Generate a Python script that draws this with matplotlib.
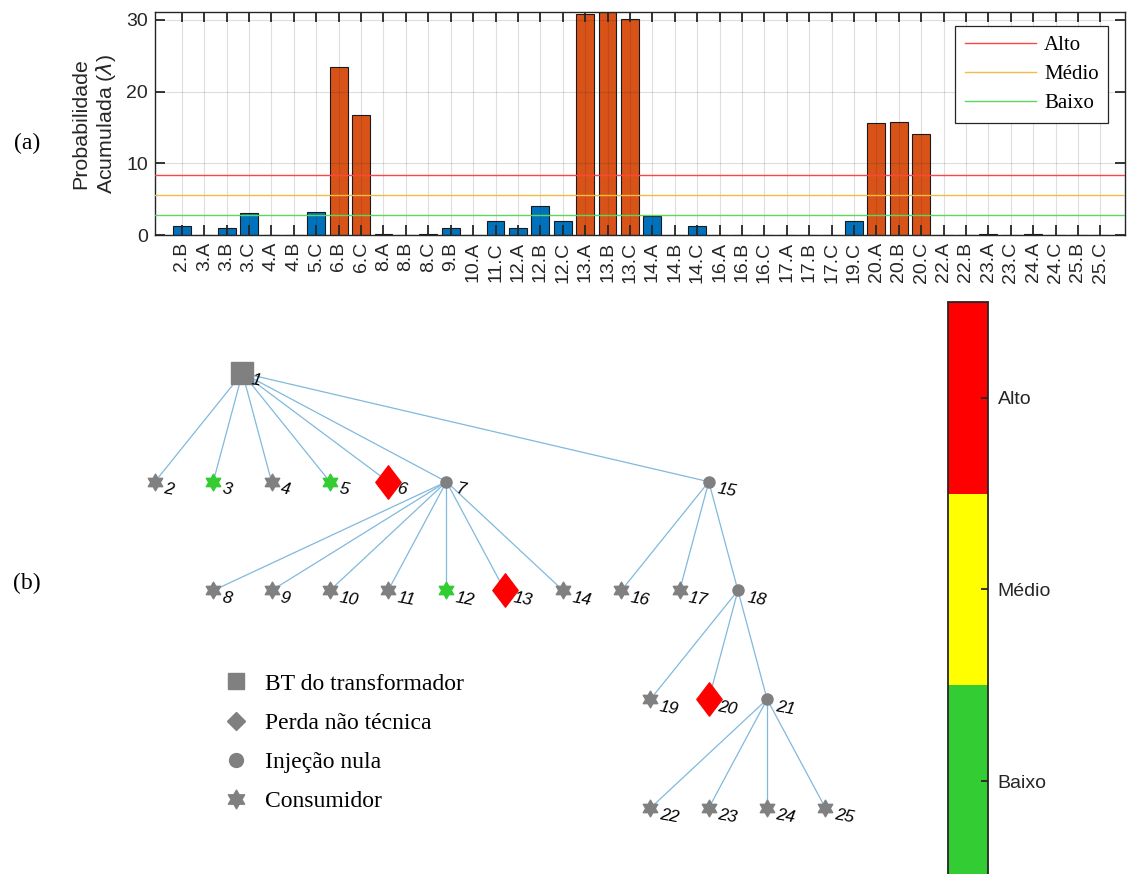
import numpy as np
import matplotlib as mpl
import matplotlib.pyplot as plt
from matplotlib.path import Path
from matplotlib.lines import Line2D
from matplotlib.colors import ListedColormap, BoundaryNorm

plt.rcParams['font.family'] = ['Liberation Sans', 'DejaVu Sans']

# (a) probabilidade acumulada por fase de cada consumidor
categorias = ['2.B', '3.A', '3.B', '3.C', '4.A', '4.B', '5.C', '6.B', '6.C',
              '8.A', '8.B', '8.C', '9.B', '10.A', '11.C', '12.A', '12.B',
              '12.C', '13.A', '13.B', '13.C', '14.A', '14.B', '14.C', '16.A',
              '16.B', '16.C', '17.A', '17.B', '17.C', '19.C', '20.A', '20.B',
              '20.C', '22.A', '22.B', '23.A', '23.C', '24.A', '24.C', '25.B',
              '25.C']
probabilidade = [1.2, 0, 1.0, 3.1, 0, 0, 3.2, 23.4, 16.8,
                 0.2, 0, 0.2, 1.0, 0, 2.0, 1.0, 4.0,
                 2.0, 30.8, 31.1, 30.1, 2.6, 0, 1.3, 0,
                 0, 0, 0, 0, 0, 2.0, 15.6, 15.8,
                 14.1, 0.05, 0, 0.1, 0, 0.15, 0, 0.05,
                 0]
limiares = [8.4, 5.6, 2.8]
nomes_risco = ['Alto', 'Médio', 'Baixo']
cores_limiar = ['#FF4444', '#F2BB44', '#5CD65C']

# (b) rede de baixa tensao
nos = list(range(1, 26))
no_x = [2.5, 1, 2, 3, 4, 5, 6, 2, 3, 4, 5, 6, 7, 8,
        10.5, 9, 10, 11, 9.5, 10.5, 11.5, 9.5, 10.5, 11.5, 12.5]
no_nivel = [5, 4, 4, 4, 4, 4, 4, 3, 3, 3, 3, 3, 3, 3,
            4, 3, 3, 3, 2, 2, 2, 1, 1, 1, 1]
arestas = [(1, 2), (1, 3), (1, 4), (1, 5), (1, 6), (1, 7), (1, 15),
           (7, 8), (7, 9), (7, 10), (7, 11), (7, 12), (7, 13), (7, 14),
           (15, 16), (15, 17), (15, 18),
           (18, 19), (18, 20), (18, 21),
           (21, 22), (21, 23), (21, 24), (21, 25)]
trafo = [1]
injecao_nula = [7, 15, 18, 21]
perda = [6, 13, 20]

W, H = 1127, 874


def caixa(x0, y0, x1, y1):
    '''Converte uma caixa em pixels (origem no topo) para fracao da figura.'''
    return [x0 / W, 1 - y1 / H, (x1 - x0) / W, (y1 - y0) / H]


fig = plt.figure(figsize=(W / 100, H / 100), dpi=100)

# ---------------- (a) barras ----------------
ax = fig.add_axes(caixa(155, 12, 1125, 235))
pos = np.arange(len(categorias))
cores = ['#D95319' if v > limiares[0] else '#0072BD' for v in probabilidade]
ax.bar(pos, probabilidade, width=0.8, color=cores, edgecolor='#1a1a1a',
       linewidth=0.8, zorder=2)
for lim, nome, cor in zip(limiares, nomes_risco, cores_limiar):
    ax.axhline(lim, color=cor, lw=1.0, label=nome, zorder=3)

ax.set_xlim(-1.2, len(categorias) + 0.1)
ax.set_ylim(0, max(probabilidade))
ax.set_xticks(pos)
ax.set_xticklabels(categorias, rotation=90)
ax.set_yticks([0, 10, 20, 30])
ax.set_axisbelow(False)
ax.grid(True, color='#262626', alpha=0.15, lw=0.8)
ax.tick_params(direction='in', length=7, width=1.3, top=True, right=True,
               labelsize=14, colors='#262626', pad=5)
for sp in ax.spines.values():
    sp.set_color('#262626')
    sp.set_linewidth(1.0)
ax.set_ylabel('Probabilidade\nAcumulada ($\\lambda$)', fontsize=15.4,
              color='#262626', labelpad=6, linespacing=1.2)

leg = ax.legend(loc='upper right', bbox_to_anchor=(0.9825, 0.935),
                borderaxespad=0, handlelength=3.4, handletextpad=0.4,
                fancybox=False, framealpha=1, edgecolor='#262626',
                prop={'family': 'Liberation Serif', 'size': 15},
                labelspacing=0.45, borderpad=0.45)
leg.get_frame().set_linewidth(0.9)

fig.text(27 / W, 1 - 143 / H, '(a)', ha='center', va='center',
         family='Liberation Serif', size=17)
fig.text(27 / W, 1 - 583 / H, '(b)', ha='center', va='center',
         family='Liberation Serif', size=17)

# ---------------- (b) grafo ----------------
gx = fig.add_axes(caixa(120, 300, 900, 874))
gx.set_xlim(0.4, 13.78)
gx.set_ylim(0.393, 5.671)
gx.axis('off')

estrela = Path.unit_regular_star(6, innerCircle=0.577)
losango = Path([(0, 1), (0.76, 0), (0, -1), (-0.76, 0), (0, 1)],
               [Path.MOVETO, Path.LINETO, Path.LINETO, Path.LINETO,
                Path.CLOSEPOLY])

for a, b in arestas:
    gx.plot([no_x[a - 1], no_x[b - 1]], [no_nivel[a - 1], no_nivel[b - 1]],
            color='#80B9DE', lw=0.9, zorder=1)

# risco de cada no a partir da maior probabilidade das suas fases
risco_no = {}
for cat, v in zip(categorias, probabilidade):
    n = int(cat.split('.')[0])
    risco_no[n] = max(risco_no.get(n, 0), v)

for n, x, y in zip(nos, no_x, no_nivel):
    p = risco_no.get(n, 0)
    if p > limiares[0]:
        cor = '#FF0000'
    elif p > limiares[1]:
        cor = '#FFFF00'
    elif p > limiares[2]:
        cor = '#33CC33'
    else:
        cor = '#808080'
    if n in trafo:
        gx.plot(x, y, marker='s', ms=16.5, color='#808080', ls='none', zorder=2)
    elif n in perda:
        gx.plot(x, y, marker=losango, ms=24, color=cor, ls='none', zorder=2)
    elif n in injecao_nula:
        gx.plot(x, y, marker='o', ms=8, color='#808080', ls='none', zorder=2)
    else:
        gx.plot(x, y, marker=estrela, ms=12, color=cor, ls='none', zorder=2)
    gx.annotate(str(n), (x, y), xytext=(6.5, -5), textcoords='offset points',
                ha='left', va='center', fontstyle='italic', fontsize=12.5,
                rotation=-10, rotation_mode='anchor', zorder=3)

simbolos = [Line2D([], [], ls='none', marker='s', ms=11.5, color='#808080'),
            Line2D([], [], ls='none', marker='D', ms=9.2, color='#808080'),
            Line2D([], [], ls='none', marker='o', ms=10, color='#808080'),
            Line2D([], [], ls='none', marker=estrela, ms=13.5, color='#808080')]
gx.legend(simbolos, ['BT do transformador', 'Perda não técnica',
                     'Injeção nula', 'Consumidor'],
          loc='upper left', bbox_to_anchor=(224 / W, 1 - 673 / H),
          bbox_transform=fig.transFigure, frameon=False, borderpad=0,
          borderaxespad=0, handlelength=1.0, handletextpad=0.74,
          labelspacing=0.75,
          prop={'family': 'Liberation Serif', 'size': 17})

# ---------------- escala de cores ----------------
cax = fig.add_axes(caixa(948, 302, 988, 877))
cmap = ListedColormap(['#33CC33', '#FFFF00', '#FF0000'])
norm = BoundaryNorm([0, 1, 2, 3], 3)
cb = fig.colorbar(mpl.cm.ScalarMappable(norm=norm, cmap=cmap), cax=cax,
                  ticks=[0.5, 1.5, 2.5])
cb.set_ticklabels(nomes_risco[::-1])
cax.minorticks_off()
cax.tick_params(direction='in', length=5, width=1.3, labelsize=14,
                colors='#262626', pad=7)
cb.outline.set_linewidth(1.3)
cb.outline.set_edgecolor('#262626')

fig.savefig('out.png', dpi=100)
